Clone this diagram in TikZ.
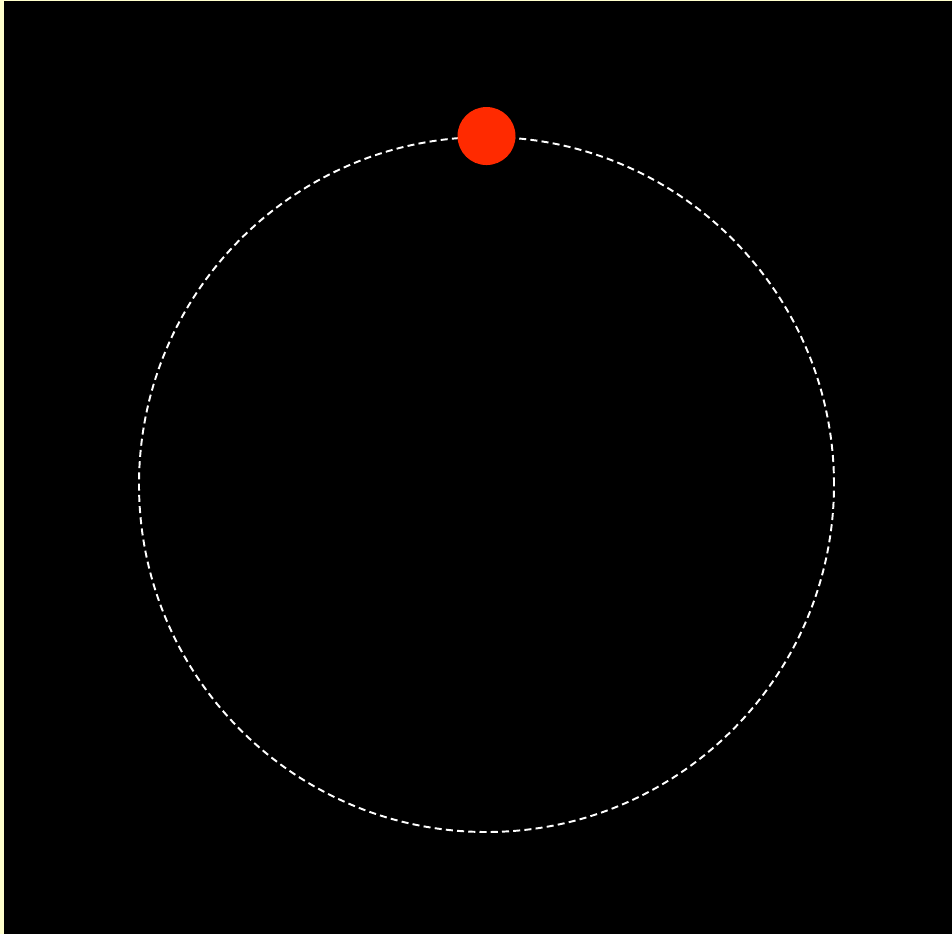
\documentclass[tikz,border=0pt]{standalone}
\usepackage{xcolor}
\usepackage{tikz}
\definecolor{paper}{HTML}{FFFFCC}
\definecolor{planetred}{HTML}{FF2A00}

\begin{document}
\begin{tikzpicture}[
    orbit/.style={draw=white, dash pattern=on 2pt off 1.2pt, line width=0.55pt,
                  circle, minimum size=6.95cm, inner sep=0pt},
    planet/.style={fill=planetred, circle, minimum size=0.58cm, inner sep=0pt},
]
    % Page and sky
    \fill[paper] (0, 0) rectangle (9.52, 9.34);
    \fill[black] (0.04, 0) rectangle (9.52, 9.33);

    % Orbit and body on it
    \node[orbit] (path) at (4.865, 4.495) {};
    \node[planet] (body) at (path.north) {};
\end{tikzpicture}
\end{document}
